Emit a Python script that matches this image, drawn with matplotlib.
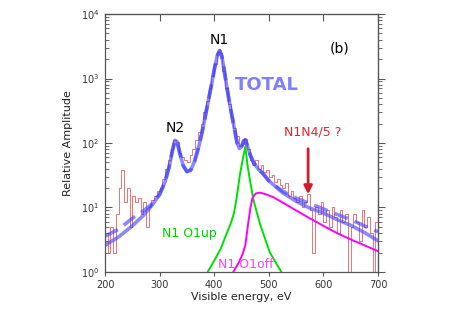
import numpy as np
import matplotlib
matplotlib.use("Agg")
import matplotlib.pyplot as plt
from matplotlib.ticker import LogLocator, NullFormatter, MultipleLocator

# measured spectrum, 5 eV bins starting at 200 eV
bin_start = 200
bin_width = 5
counts = [4, 2, 5, 2, 8, 20, 38, 12, 20, 5,
          15, 12, 14, 8, 12, 5, 10, 13, 15, 18,
          20, 28, 40, 55, 80, 110, 105, 70, 60, 55,
          50, 65, 80, 110, 150, 200, 300, 450, 700, 1100,
          1700, 2600, 2500, 1300, 700, 400, 250, 170, 130, 90,
          95, 115, 80, 55, 45, 55, 40, 45, 35, 38,
          30, 32, 25, 28, 22, 20, 24, 15, 18, 14,
          12, 15, 10, 12, 16, 9, 2, 10, 8, 12,
          6, 9, 5, 10, 7, 4, 9, 6, 8, 1,
          5, 8, 6, 3, 9, 5, 7, 4, 1, 6]

# total fit (solid)
tot_E = [200, 225, 250, 270, 285, 300, 310, 318, 324, 328, 332, 337, 343, 350,
         357, 364, 372, 380, 388, 395, 401, 406, 410, 414, 418, 423, 428, 433,
         438, 442, 446, 450, 454, 457, 461, 466, 472, 480, 490, 500, 525, 550,
         575, 600, 625, 650, 675, 700]
tot_A = [2.6, 3.5, 5.2, 7.5, 10.5, 16, 25, 45, 80, 110, 105, 70, 45, 36,
         38, 52, 90, 180, 400, 800, 1500, 2300, 2700, 2200, 1400, 750, 420, 250,
         150, 100, 82, 88, 108, 112, 90, 65, 50, 40, 33, 26, 17, 12.5,
         9.8, 8.2, 6.5, 5.3, 4.1, 3.05]

# total fit (dashed variant), differs only in the tails
dash_E = [200, 225, 250, 270, 285, 300, 310, 318, 324, 328, 332, 337, 343, 350,
          357, 364, 372, 380, 388, 395, 401, 406, 410, 414, 418, 423, 428, 433,
          438, 442, 446, 450, 454, 457, 461, 466, 472, 480, 490, 500, 525, 550,
          575, 600, 625, 650, 675, 700]
dash_A = [3.6, 4.6, 6.8, 8.8, 11.2, 16, 25, 45, 80, 110, 105, 70, 45, 36,
          38, 52, 90, 180, 400, 800, 1500, 2300, 2700, 2200, 1400, 750, 420, 250,
          150, 100, 82, 88, 108, 112, 90, 65, 50, 40, 33, 26, 18, 14,
          11.5, 9.5, 7.8, 6.5, 5.2, 4.2]

# N1 O1up component
up_E = [388, 400, 412, 422, 430, 436, 441, 447, 453, 457, 461, 466, 472, 484, 502, 523]
up_A = [1.0, 1.5, 2.3, 3.8, 5.6, 8, 14, 32, 60, 88, 45, 25, 13, 5.5, 2.0, 1.0]

# N1 O1off component
off_E = [435, 445, 452, 457, 462, 466, 470, 476, 484, 495, 508, 525, 550, 575,
         600, 625, 650, 675, 700]
off_A = [1.0, 1.4, 1.9, 2.6, 5.5, 9.5, 14, 16.5, 17, 16, 14.5, 12, 9, 6.8,
         5.2, 4.0, 3.2, 2.6, 2.1]

edges = bin_start + bin_width * np.arange(len(counts) + 1)
vals = counts + [counts[-1]]

fig = plt.figure(figsize=(4.57, 3.10), dpi=100)
ax = fig.add_axes([0.2298, 0.1226, 0.5973, 0.8322])

ax.step(edges, vals, where="post", color="#e03a3a", alpha=0.7, lw=0.7)
ax.plot(tot_E, tot_A, color="#3c3cff", alpha=0.6, lw=2.6, solid_capstyle="round")
ax.plot(dash_E, dash_A, color="#3c3cff", alpha=0.6, lw=2.6, dashes=(4, 2))
ax.plot(up_E, up_A, color="#00e000", lw=1.4)
ax.plot(off_E, off_A, color="#ff00ff", lw=1.4)

ax.set_yscale("log")
ax.set_xlim(200, 700)
ax.set_ylim(1, 1e4)

gray = "#555555"
for s in ax.spines.values():
    s.set_color(gray)
    s.set_linewidth(0.9)

ax.xaxis.set_major_locator(MultipleLocator(100))
ax.yaxis.set_major_locator(LogLocator(base=10, numticks=10))
ax.yaxis.set_minor_locator(LogLocator(base=10, subs=np.arange(2, 10), numticks=10))
ax.yaxis.set_minor_formatter(NullFormatter())
ax.tick_params(axis="x", direction="out", length=3, color=gray, labelsize=7, labelcolor="#333333", pad=3)
ax.tick_params(axis="y", which="major", direction="in", length=5, color=gray, labelsize=7, labelcolor="#333333", pad=4)
ax.tick_params(axis="y", which="minor", direction="in", length=3, color=gray)

top = ax.secondary_xaxis("top")
top.xaxis.set_major_locator(MultipleLocator(100))
top.tick_params(direction="in", length=5, color=gray, labeltop=False)
top.spines["top"].set_color(gray)

right = ax.secondary_yaxis("right")
right.yaxis.set_major_locator(LogLocator(base=10, numticks=10))
right.yaxis.set_minor_locator(LogLocator(base=10, subs=np.arange(2, 10), numticks=10))
right.tick_params(which="major", direction="out", length=5, color=gray, labelright=False)
right.tick_params(which="minor", direction="out", length=3, color=gray, labelright=False)
right.spines["right"].set_color(gray)

ax.set_xlabel("Visible energy, eV", fontsize=8, color="#222222", labelpad=1)
ax.set_ylabel("Relative Amplitude", fontsize=8, color="#222222", labelpad=6)

ax.text(409, 3950, "N1", fontsize=10, ha="center", va="center")
ax.text(328, 170, "N2", fontsize=10, ha="center", va="center")
ax.text(630, 2900, "(b)", fontsize=10, ha="center", va="center")
ax.text(437, 790, "TOTAL", fontsize=13, fontweight="bold", color="#8080ff", ha="left", va="center")
ax.text(580, 150, "N1N4/5 ?", fontsize=9, color="#e8202a", ha="center", va="center")
ax.annotate("", xy=(572, 14.5), xytext=(572, 90),
            arrowprops=dict(arrowstyle="-|>", color="#d01c2c", lw=2, mutation_scale=12))
ax.text(355, 3.9, "N1 O1up", fontsize=9, color="#00d000", ha="center", va="center")
ax.text(458, 1.3, "N1 O1off", fontsize=9, color="#ff40ff", ha="center", va="center")

fig.savefig("out.png", dpi=100)
